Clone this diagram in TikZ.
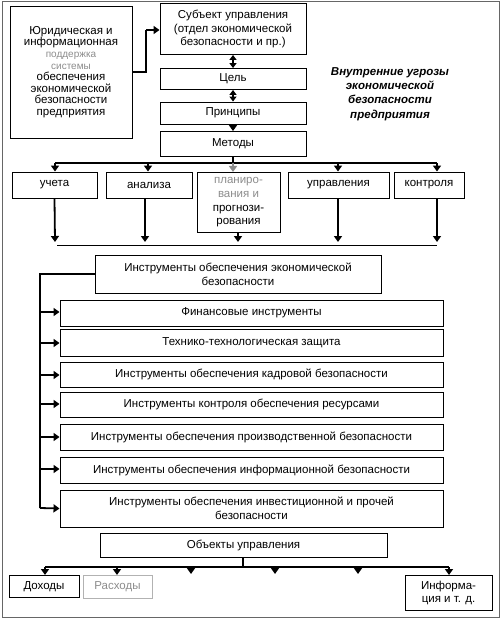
\documentclass[tikz,border=0pt]{standalone}
\usepackage{fontspec}
\setmainfont{Liberation Sans}
\usetikzlibrary{arrows.meta}
\begin{document}
\begin{tikzpicture}[x=1pt,y=-1pt,
  box/.style={draw=black,line width=0.9pt,inner sep=0pt,align=center,font=\fontsize{11.5}{13.6}\selectfont},
  sbox/.style={box,minimum width=383pt},
  con/.style={line width=1.8pt,-{Triangle[length=6pt,width=8pt]}},
  dcon/.style={line width=1.8pt,{Triangle[length=5pt,width=7pt]}-{Triangle[length=5pt,width=7pt]}},
  bus/.style={line width=1.8pt},
  thin/.style={line width=0.9pt}]
\useasboundingbox (0,0) rectangle (502,620);
\draw[line width=1pt,black!60] (2,2) rectangle (499,617);
% top
\node[box,font=\fontsize{11.5}{11.6}\selectfont,minimum width=122pt,minimum height=132pt] (jur) at (71,72) {Юридическая и\\информационная\\\textcolor{black!45}{\fontsize{10}{11.6}\selectfont поддержка}\\\textcolor{black!45}{\fontsize{10}{11.6}\selectfont системы}\\обеспечения\\экономической\\безопасности\\предприятия};
\node[box,minimum width=146pt,minimum height=51pt] (subj) at (233,29) {Субъект управления\\(отдел экономической\\безопасности и пр.)};
\node[box,minimum width=146pt,minimum height=21pt] (goal) at (233,79) {Цель};
\node[box,minimum width=146pt,minimum height=22pt] (princ) at (233,113) {Принципы};
\node[box,minimum width=146pt,minimum height=25pt] (meth) at (233,144) {Методы};
\node[align=center,font=\fontsize{11.5}{14.3}\selectfont\bfseries\itshape] (thr) at (390,94) {Внутренние угрозы\\экономической\\безопасности\\предприятия};
\coordinate (j1) at (146,72);
\draw[bus] (jur.east |- j1) -- (j1) |- (146,30) coordinate (j2);
\draw[con] (j2) -- (subj.west |- j2);
\draw[dcon] (subj.south) -- (goal.north);
\draw[dcon] (goal.south) -- (princ.north);
\draw[con] (princ.south) -- (meth.north);
% methods row
\node[box,minimum width=85pt,minimum height=26pt] (uch) at (54.5,185) {учета};
\node[box,minimum width=86pt,minimum height=26pt] (anal) at (149,185) {анализа};
\node[box,minimum width=83pt,minimum height=60pt,anchor=north] (plan) at (238.5,172) {\textcolor{black!45}{планиро-}\\\textcolor{black!45}{вания и}\\прогнози-\\рования};
\node[box,minimum width=101pt,minimum height=26pt] (upr) at (338.5,185) {управления};
\node[box,minimum width=70pt,minimum height=26pt] (kontr) at (429,185) {контроля};
\coordinate (b0) at (233,163);
\draw[bus] (meth.south) -- (b0);
\draw[bus] (55,163) coordinate (bl) -- (437,163) coordinate (br);
\draw[con] (bl) -- (bl |- uch.north);
\draw[con] (148,163) coordinate (ba) -- (ba |- anal.north);
\draw[con,black!45] (b0) -- (b0 |- plan.north);
\draw[con] (338,163) coordinate (bu) -- (bu |- upr.north);
\draw[con] (br) -- (br |- kontr.north);
\coordinate (l1) at (55,242);
\coordinate (l2) at (145,242);
\coordinate (l3) at (238,242);
\coordinate (l4) at (338,242);
\coordinate (l5) at (437,242);
\draw[con] (uch.south) -- (l1);
\draw[con] (anal.south -| l2) -- (l2);
\draw[con] (plan.south -| l3) -- (l3);
\draw[con] (upr.south -| l4) -- (l4);
\draw[con] (kontr.south -| l5) -- (l5);
\draw[thin] (57,245) coordinate (t1) -- (437,245) coordinate (t2);
% instruments
\node[box,minimum width=286pt,minimum height=38pt] (instr) at (238,274) {Инструменты обеспечения экономической\\безопасности};
\node[sbox,minimum height=26pt] (s1) at (251.5,313) {Финансовые инструменты};
\node[sbox,minimum height=27pt] (s2) at (251.5,342.5) {Технико-технологическая защита};
\node[sbox,minimum height=25pt] (s3) at (251.5,374.5) {Инструменты обеспечения кадровой безопасности};
\node[sbox,minimum height=25pt] (s4) at (251.5,404.5) {Инструменты контроля обеспечения ресурсами};
\node[sbox,minimum height=26pt] (s5) at (251.5,437) {Инструменты обеспечения производственной безопасности};
\node[sbox,minimum height=26pt] (s6) at (251.5,470) {Инструменты обеспечения информационной безопасности};
\node[sbox,minimum height=37pt] (s7) at (251.5,508.5) {Инструменты обеспечения инвестиционной и прочей\\безопасности};
\coordinate (v0) at (40,274);
\draw[bus] (instr.west |- v0) -- (v0) -- (40,508) coordinate (v7);
\draw[con] (v7) -- (s7.west);
\draw[con] (40,312) coordinate (v1) -- (s1.west |- v1);
\draw[con] (40,343) coordinate (v2) -- (s2.west |- v2);
\draw[con] (40,375) coordinate (v3) -- (s3.west |- v3);
\draw[con] (40,404) coordinate (v4) -- (s4.west |- v4);
\draw[con] (40,437) coordinate (v5) -- (s5.west |- v5);
\draw[con] (40,469) coordinate (v6) -- (s6.west |- v6);
% objects
\node[box,minimum width=287pt,minimum height=24pt] (obj) at (243.5,545) {Объекты управления};
\node[box,minimum width=70pt,minimum height=22pt,anchor=north] (doh) at (44,575) {Доходы};
\node[box,draw=black!30,text=black!45,minimum width=69pt,minimum height=23pt,anchor=north] (rash) at (117.5,575) {Расходы};
\node[box,minimum width=87pt,minimum height=35pt,anchor=north] (info) at (448.5,575) {Информа-\\ция и т. д.};
\coordinate (o0) at (243,567);
\draw[bus] (obj.south -| o0) -- (o0);
\draw[bus] (45,567) coordinate (ol) -- (449,567) coordinate (or);
\draw[con] (ol) -- (ol |- doh.north);
\draw[con] (117,567) coordinate (o2) -- (o2 |- rash.north);
\draw[con] (191,567) coordinate (o3) -- (191,574);
\draw[con] (275,567) coordinate (o4) -- (275,574);
\draw[con] (358,567) coordinate (o5) -- (358,574);
\draw[con] (or) -- (or |- info.north);
\end{tikzpicture}
\end{document}
